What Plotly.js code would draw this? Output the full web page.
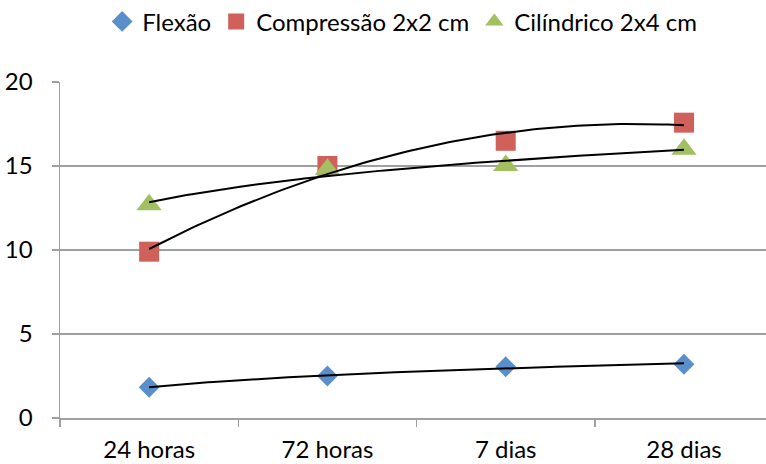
<!DOCTYPE html>
<html><head><meta charset="utf-8">
<script src="https://cdn.plot.ly/plotly-3.0.1.min.js"></script>
<style>body{margin:0;background:#fff}#c{width:766px;height:464px}</style>
</head><body><div id="c"></div>
<script>
const categories = ["24 horas", "72 horas", "7 dias", "28 dias"];
const flexao = [1.83, 2.5, 3.05, 3.2];
const compressao = [9.9, 15.0, 16.5, 17.58];
const cilindrico = [12.7, 14.8, 15.03, 16.0];
const seriesNames = ["Flexão", "Compressão 2x2 cm", "Cilíndrico 2x4 cm"];

// Excel-style trendlines computed from data (x = 1..n)
function logFit(y){
  const n=y.length, lx=y.map((_,i)=>Math.log(i+1));
  const mx=lx.reduce((a,b)=>a+b)/n, my=y.reduce((a,b)=>a+b)/n;
  let sxx=0,sxy=0; for(let i=0;i<n;i++){sxx+=(lx[i]-mx)**2;sxy+=(lx[i]-mx)*(y[i]-my);}
  const b=sxy/sxx,a=my-b*mx; return x=>a+b*Math.log(x);
}
function polyFit2(y){
  const n=y.length; let S=[0,0,0,0,0],T=[0,0,0];
  for(let i=0;i<n;i++){const x=i+1;for(let k=0;k<5;k++)S[k]+=x**k;for(let k=0;k<3;k++)T[k]+=y[i]*x**k;}
  const M=[[S[0],S[1],S[2],T[0]],[S[1],S[2],S[3],T[1]],[S[2],S[3],S[4],T[2]]];
  for(let c=0;c<3;c++){for(let r=c+1;r<3;r++){const f=M[r][c]/M[c][c];for(let k=c;k<4;k++)M[r][k]-=f*M[c][k];}}
  const p=[0,0,0];for(let r=2;r>=0;r--){let s=M[r][3];for(let k=r+1;k<3;k++)s-=M[r][k]*p[k];p[r]=s/M[r][r];}
  return x=>p[0]+p[1]*x+p[2]*x*x;
}
function curve(f,n){const xs=[],ys=[];for(let i=0;i<=100;i++){const x=1+(n-1)*i/100;xs.push(x-1);ys.push(f(x));}return {xs,ys};}

const fits=[logFit(flexao),polyFit2(compressao),logFit(cilindrico)];
const data=[flexao,compressao,cilindrico];
const colors=["#5A8FCB","#CF605A","#A2C062"];
const symbols=["diamond","square","triangle-up"];
const sizes=[16,20,22];

const traces=[];
data.forEach((d,i)=>{
  traces.push({x:categories,y:d,type:"scatter",mode:"markers",name:seriesNames[i],
    marker:{symbol:symbols[i],size:sizes[i],color:colors[i]},cliponaxis:false});
});
data.forEach((d,i)=>{
  const c=curve(fits[i],d.length);
  traces.push({x:c.xs,y:c.ys,xaxis:"x2",type:"scatter",mode:"lines",showlegend:false,
    line:{color:"#000",width:2},hoverinfo:"skip"});
});

const font={family:"Lato, 'Open Sans', sans-serif",size:24,color:"#000"};
const layout={
  width:766,height:464,margin:{l:60,r:0,t:82,b:46,autoexpand:false},
  paper_bgcolor:"#fff",plot_bgcolor:"#fff",font:font,showlegend:true,
  legend:{orientation:"h",x:0.525,xanchor:"center",xref:"container",yref:"container",y:0.953,yanchor:"middle",font:font,itemwidth:30,tracegroupgap:0},
  xaxis:{type:"category",range:[-0.5,3.46],tickson:"boundaries",ticks:"outside",ticklen:7,tickcolor:"#a0a0a0",tickwidth:1.5,
    showline:true,linecolor:"#a0a0a0",linewidth:1.5,showgrid:false,zeroline:false,fixedrange:true,automargin:false,ticklabelstandoff:10},
  xaxis2:{overlaying:"x",range:[-0.5,3.46],visible:false,fixedrange:true},
  yaxis:{range:[0,20],dtick:5,tick0:0,ticks:"outside",ticklen:7,tickcolor:"#a0a0a0",tickwidth:1.5,automargin:false,
    showline:true,linecolor:"#a0a0a0",linewidth:1.5,showgrid:true,gridcolor:"#a0a0a0",gridwidth:1.5,zeroline:false,ticklabelstandoff:14}
};
Plotly.newPlot("c",traces,layout,{staticPlot:true});
</script></body></html>
